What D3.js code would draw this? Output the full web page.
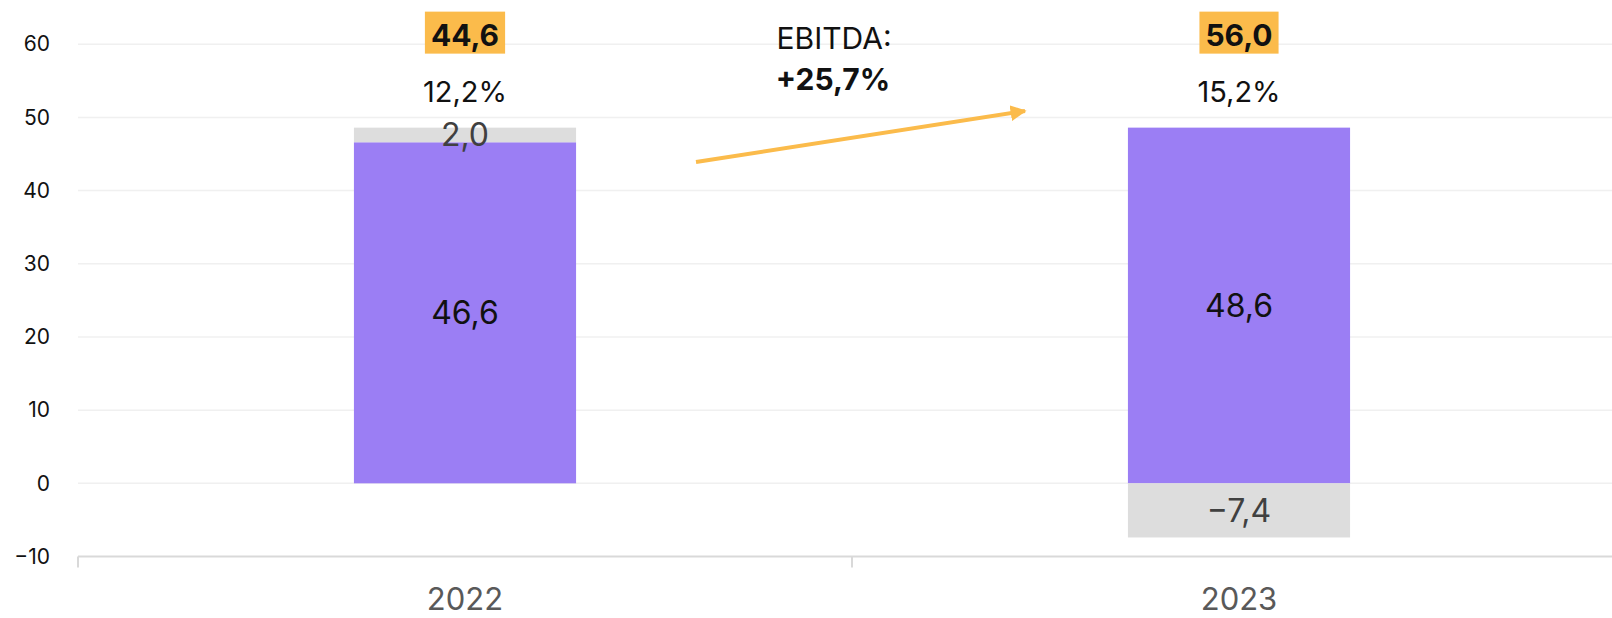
<!DOCTYPE html>
<html>
<head>
<meta charset="utf-8">
<script src="https://cdn.jsdelivr.net/npm/d3@7"></script>
<style>
  body { margin: 0; background: #fff; }
  svg { display: block; font-family: Inter, "Noto Sans", sans-serif; }
</style>
</head>
<body>
<div id="chart"></div>
<script>
// data
const years = ["2022", "2023"];
const mainValues = [46.6, 48.6];     // purple
const adjValues = [2.0, -7.4];       // grey
const ebitdaValues = ["44,6", "56,0"];
const marginValues = ["12,2%", "15,2%"];
const yTicks = [-10, 0, 10, 20, 30, 40, 50, 60];
const growthTitle = "EBITDA:";
const growthValue = "+25,7%";

const fmt = v => d3.format(".1f")(v).replace(".", ",").replace("-", "−");

// dimensions
const width = 1612, height = 618;
const left = 78;

const svg = d3.select("#chart")
    .append("svg")
    .attr("width", width)
    .attr("height", height);

// scales (second band runs past the right edge, as in the original)
const x = d3.scaleBand()
    .domain(years)
    .range([left, left + 2 * 774])
    .paddingInner(0.713)
    .paddingOuter(0.3565);

const y = d3.scaleLinear()
    .domain([-10, 60])
    .range([556.5, 44.2]);

// gridlines
svg.append("g")
    .selectAll("line")
    .data(yTicks.filter(t => t > -10))
    .join("line")
    .attr("x1", left)
    .attr("x2", width)
    .attr("y1", d => y(d))
    .attr("y2", d => y(d))
    .attr("stroke", "#f0f0f0")
    .attr("stroke-width", 1.5);

// y axis labels
const yAxis = svg.append("g")
    .attr("transform", "translate(50,0)")
    .call(d3.axisLeft(y).tickValues(yTicks).tickSize(0).tickPadding(0));
yAxis.select(".domain").remove();
yAxis.selectAll("text")
    .attr("font-size", 21)
    .attr("font-family", "Inter, sans-serif")
    .attr("fill", "#111");

// x axis
const xAxis = svg.append("g")
    .attr("transform", `translate(0, ${y(-10)})`);
xAxis.append("line")
    .attr("x1", left).attr("x2", width)
    .attr("stroke", "#d9d9d9").attr("stroke-width", 2);
xAxis.selectAll(".tk")
    .data([0, 1, 2])
    .join("line")
    .attr("class", "tk")
    .attr("x1", i => left + i * x.step())
    .attr("x2", i => left + i * x.step())
    .attr("y1", 0).attr("y2", 11)
    .attr("stroke", "#d9d9d9").attr("stroke-width", 2);
xAxis.selectAll("text")
    .data(years)
    .join("text")
    .attr("x", d => x(d) + x.bandwidth() / 2)
    .attr("y", 53)
    .attr("text-anchor", "middle")
    .attr("font-size", 31)
    .attr("fill", "#595959")
    .text(d => d);

// bars
const rows = years.map((d, i) => ({
    year: d, main: mainValues[i], adj: adjValues[i],
    ebitda: ebitdaValues[i], margin: marginValues[i]
}));

svg.append("g")
    .selectAll("rect")
    .data(rows)
    .join("rect")
    .attr("x", d => x(d.year))
    .attr("width", x.bandwidth())
    .attr("y", d => y(d.main))
    .attr("height", d => y(0) - y(d.main))
    .attr("fill", "#9b7ef4");

svg.append("g")
    .selectAll("rect")
    .data(rows)
    .join("rect")
    .attr("x", d => x(d.year))
    .attr("width", x.bandwidth())
    .attr("y", d => d.adj >= 0 ? y(d.main + d.adj) : y(0))
    .attr("height", d => Math.abs(y(0) - y(d.adj)))
    .attr("fill", "#dddddd");

// bar value labels
const cx = d => x(d.year) + x.bandwidth() / 2;

svg.append("g")
    .selectAll("text")
    .data(rows)
    .join("text")
    .attr("x", cx)
    .attr("y", d => (y(0) + y(d.main)) / 2)
    .attr("dy", "0.36em")
    .attr("text-anchor", "middle")
    .attr("font-size", 32)
    .attr("fill", "#111")
    .text(d => fmt(d.main));

svg.append("g")
    .selectAll("text")
    .data(rows)
    .join("text")
    .attr("x", cx)
    .attr("y", d => d.adj >= 0 ? (y(d.main) + y(d.main + d.adj)) / 2 : (y(0) + y(d.adj)) / 2)
    .attr("dy", "0.36em")
    .attr("text-anchor", "middle")
    .attr("font-size", 32)
    .attr("fill", "#404040")
    .text(d => fmt(d.adj));

// margin labels and EBITDA boxes above the bars
const topY = d => y(d.main + Math.max(d.adj, 0));

svg.append("g")
    .selectAll("text")
    .data(rows)
    .join("text")
    .attr("x", cx)
    .attr("y", d => topY(d) - 26)
    .attr("text-anchor", "middle")
    .attr("font-size", 29)
    .attr("fill", "#111")
    .text(d => d.margin);

const boxes = svg.append("g")
    .selectAll("g")
    .data(rows)
    .join("g");
boxes.append("rect")
    .attr("fill", "#fbbb4b");
boxes.append("text")
    .attr("x", cx)
    .attr("y", d => topY(d) - 82)
    .attr("text-anchor", "middle")
    .attr("font-size", 30)
    .attr("font-weight", 700)
    .attr("fill", "#111")
    .text(d => d.ebitda);
boxes.each(function(d) {
    const g = d3.select(this);
    const bb = g.select("text").node().getBBox();
    g.select("rect")
        .attr("x", bb.x - 6)
        .attr("width", bb.width + 12)
        .attr("y", topY(d) - 116)
        .attr("height", 42);
});

// growth annotation
const mid = (cx(rows[0]) + cx(rows[1])) / 2;
svg.append("text")
    .attr("x", mid - 18)
    .attr("y", 49)
    .attr("text-anchor", "middle")
    .attr("font-size", 30)
    .attr("fill", "#111")
    .text(growthTitle);
svg.append("text")
    .attr("x", mid - 19)
    .attr("y", 90)
    .attr("text-anchor", "middle")
    .attr("font-size", 30)
    .attr("font-weight", 700)
    .attr("fill", "#111")
    .text(growthValue);

svg.append("defs").append("marker")
    .attr("id", "arrow")
    .attr("viewBox", "0 0 10 10")
    .attr("refX", 9).attr("refY", 5)
    .attr("markerWidth", 4).attr("markerHeight", 4)
    .attr("markerUnits", "strokeWidth")
    .attr("orient", "auto")
    .append("path")
    .attr("d", "M0,0 L10,5 L0,10 z")
    .attr("fill", "#fbbb4b");

svg.append("line")
    .attr("x1", cx(rows[0]) + 231)
    .attr("y1", 162)
    .attr("x2", cx(rows[1]) - 214)
    .attr("y2", 111)
    .attr("stroke", "#fbbb4b")
    .attr("stroke-width", 4)
    .attr("marker-end", "url(#arrow)");
</script>
</body>
</html>
